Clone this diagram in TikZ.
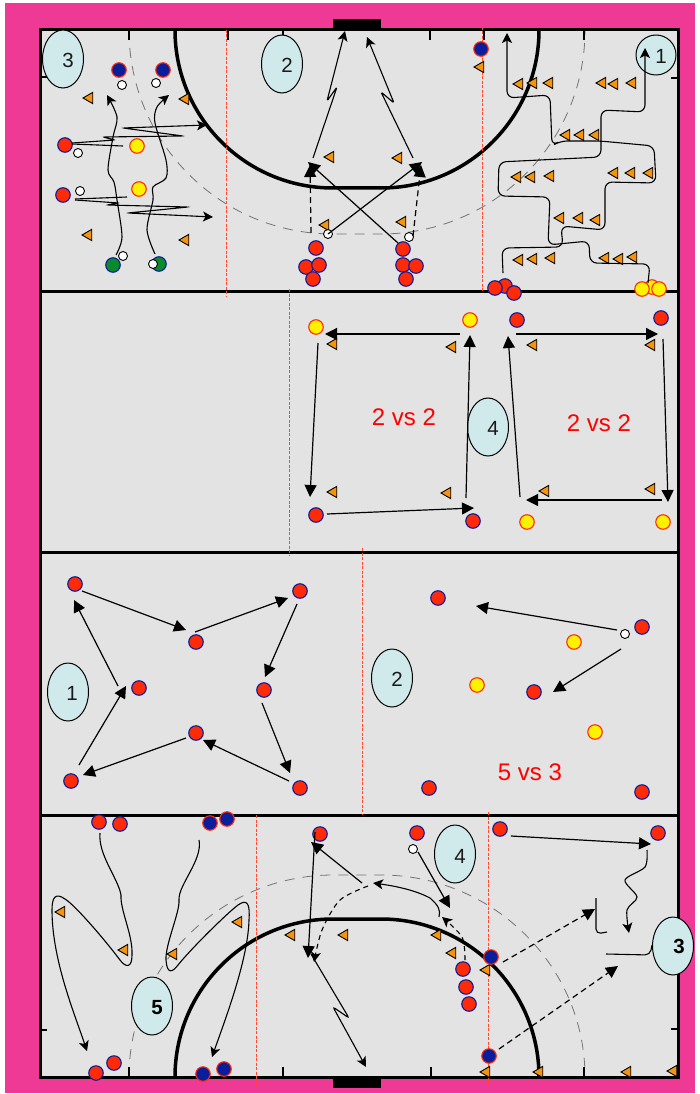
\documentclass[tikz,border=0pt]{standalone}
\usepackage{fontspec}
\setmainfont{Liberation Sans}
\usetikzlibrary{arrows.meta,shapes.geometric}
\definecolor{pinkbg}{HTML}{EE3A94}
\definecolor{fieldc}{HTML}{E3E3E3}
\definecolor{ellc}{HTML}{D0EAEC}
\definecolor{pred}{HTML}{FF2A08}
\definecolor{pblue}{HTML}{0A1E9C}
\definecolor{pgreen}{HTML}{0A8A2A}
\definecolor{pyellow}{HTML}{FFF200}
\definecolor{conec}{HTML}{F5950F}
\definecolor{rline}{HTML}{FF4A30}
\newcommand\conn[4]{\coordinate (#2s) at (#3); \coordinate (#2e) at (#4); \draw[#1] (#2s) -- (#2e);}
\tikzset{
  x=1pt,y=-1pt,
  base/.style={circle,inner sep=0pt,minimum size=14.5pt,line width=1.1pt},
  redp/.style={base,fill=pred,draw=pblue},
  bluep/.style={base,fill=pblue,draw=pred},
  yelp/.style={base,fill=pyellow,draw=pred},
  grnp/.style={base,fill=pgreen,draw=pblue},
  ball/.style={circle,inner sep=0pt,minimum size=9pt,fill=white,draw=black,line width=.9pt},
  conem/.style={regular polygon,regular polygon sides=3,shape border rotate=90,minimum size=13pt,inner sep=0pt,fill=conec,draw=black,line width=.9pt,xshift=1.5pt},
  ell/.style={ellipse,minimum width=41pt,minimum height=58pt,inner sep=0pt,fill=ellc,draw=black,line width=1pt},
  lab/.style={inner sep=0pt,font=\fontsize{20.5}{22}\selectfont,text=black!90},
  blab/.style={inner sep=0pt,font=\fontsize{20.5}{22}\selectfont\bfseries,text=black},
  vs/.style={inner sep=0pt,font=\fontsize{24}{26}\selectfont,text=red},
  arr/.style={line width=1.2pt,-{Triangle[length=12pt,width=12pt]}},
  arrs/.style={line width=1.1pt,-{Stealth[length=10pt,width=10pt,inset=2.5pt]}},
  darr/.style={arr,dash pattern=on 6pt off 4pt},
  darrs/.style={arrs,dash pattern=on 5pt off 4pt},
  curve/.style={line width=1.1pt,line join=round},
  redl/.style={rline,line width=.9pt,dash pattern=on 3pt off 1.5pt},
  grayd/.style={black!55,line width=.8pt,dash pattern=on 10pt off 8pt},
  fline/.style={line width=3pt,black},
  circ/.style={line width=3.5pt,black},
  tick/.style={line width=2.2pt,black}
}
\begin{document}
\begin{tikzpicture}
\useasboundingbox (0,0) rectangle (699,1094);
\fill[white] (0,0) rectangle (699,1094);
\fill[pinkbg] (5,3) rectangle (695,1093);
\fill[black] (333,19) rectangle (381,31);
\fill[black] (333,1076) rectangle (381,1088);
\fill[fieldc] (40,30) rectangle (678,1077);
% dashed circles
\draw[grayd] (129,30) .. controls (129,142.7) and (220.3,234) .. (333,234) -- (381,234) .. controls (493.7,234) and (585,142.7) .. (585,30);
\draw[grayd] (129,1077) .. controls (129,965.4) and (221.4,875) .. (333,875) -- (381,875) .. controls (492.6,875) and (585,965.4) .. (585,1077);
% circles
\draw[circ] (175,30) .. controls (175,117.3) and (245.7,188) .. (333,188) -- (381,188) .. controls (468.3,188) and (539,117.3) .. (539,30);
\draw[circ] (175,1077) .. controls (175,989.7) and (245.7,919) .. (333,919) -- (381,919) .. controls (468.3,919) and (539,989.7) .. (539,1077);
% ticks
\foreach \x in {129,228,283,430,484,584} \draw[tick] (\x,30) -- (\x,40);
\foreach \x in {129,283,431,584} \draw[tick] (\x,1077) -- (\x,1067);
\draw[tick] (40,77) -- (47,77);
\draw[tick] (678,78) -- (671,78);
\draw[tick] (40,1030) -- (47,1030);
\draw[tick] (678,1029) -- (671,1029);
% field lines
\draw[fline] (40,30) rectangle (678,1077);
\draw[fline] (40,291) -- (678,291);
\draw[fline] (40,552) -- (678,552);
\draw[fline] (40,815) -- (678,815);
% red dashed
\draw[redl] (226.5,30) -- (226.5,296);
\draw[redl] (482,27) -- (482,291);
\draw[redl] (289,289) -- (289,555);
\draw[redl] (362,548) -- (362,815);
\draw[redl] (256,815) -- (256,1087);
\draw[redl] (488,812) -- (488,1084);
% ellipses and labels
\node[ell] (e3a) at (63,59) {};
\node[ell] (e2a) at (282,64) {};
\node[ell,minimum width=40pt,minimum height=40pt] (e1a) at (656,55) {};
\node[ell] (e4b) at (488,427) {};
\node[ell] (e1c) at (68,692) {};
\node[ell] (e2c) at (392,678) {};
\node[ell] (e4d) at (455,854) {};
\node[ell] (e3d) at (673,946) {};
\node[ell] (e5d) at (152,1006) {};
\node[lab] (t3a) at (68,60) {3};
\node[lab] (t2a) at (287,65) {2};
\node[lab] (t1a) at (661,56) {1};
\node[lab] (t4b) at (493,428) {4};
\node[lab] (t1c) at (72,693) {1};
\node[lab] (t2c) at (397,679) {2};
\node[lab] (t4d) at (460,856) {4};
\node[blab] (t3d) at (679,946) {3};
\node[blab] (t5d) at (157,1008) {5};
\node[vs] (v1) at (404,417) {2 vs 2};
\node[vs] (v2) at (599,423) {2 vs 2};
\node[vs] (v3) at (530,772) {5 vs 3};
% cones
\foreach \x/\y [count=\i] in {88/98,184/99,87/235,184/240,329/157,324/225,397/158,401/222,479/67,
 518/84,532/83,548/83,601/83,613/84,631/83,565/135,579/135,594/135,516/177,530/177,549/176,
 613/173,630/173,648/173,559/218,578/218,595/220,518/260,532/259,550/258,604/258,618/259,632/257,
 332/344,451/347,532/345,650/345,332/492,446/493,544/491,650/489,
 60/912,123/950,172/954,237/922,290/935,343/935,436/935,451/953,485/970,485/1072,538/1072,626/1072,672/1071}
  \node[conem] (c\i) at (\x,\y) {};
% players
\node[yelp] (y1) at (652,287) {};
\foreach \x/\y [count=\i] in {137/146,139/189,642/289,659/289,316/327,470/320,527/522,663/522,574/642,477/685,595/732}
  \node[yelp] (ya\i) at (\x,\y) {};
\foreach \x/\y [count=\i] in {119/70,163/70,481/49,210/823,227/819,203/1074,224/1069,491/957,489/1056}
  \node[bluep] (b\i) at (\x,\y) {};
\foreach \x/\y [count=\i] in {113/265,159/264}
  \node[grnp] (g\i) at (\x,\y) {};
\foreach \x/\y [count=\i] in {65/145,63/195,316/248,306/267,319/265,313/279,403/249,403/265,416/266,406/279,
 505/286,495/288,514/293,517/320,661/318,316/515,473/521,
 75/584,300/591,196/642,139/688,264/690,196/733,71/781,300/788,
 438/598,642/627,534/692,429/788,642/792,
 99/822,120/824,96/1073,114/1063,320/834,417/833,463/969,466/987,469/1004,500/829,658/833}
  \node[redp] (r\i) at (\x,\y) {};
\foreach \x/\y [count=\i] in {122/85,156/83,78/153,80/191,123/256,153/264,328/234,409/237,625/634,413/849}
  \node[ball] (w\i) at (\x,\y) {};
% top-left
\draw[arrs] plot[smooth] coordinates {(116,255) (122,237) (117,200) (114,182) (108,170) (113,137) (117,117) (107,95)};
\draw[arrs] plot[smooth] coordinates {(155,254) (147,230) (153,200) (153,187) (166,178) (166,160) (155,123) (157,107) (169,95)};
\draw[arrs,rounded corners=2pt] (72,143) -- (115,140) -- (103,137) -- (183,136) -- (123,128) -- (207,125);
\draw[curve] (72,144) -- (123,146);
\draw[curve] (75,199) -- (127,197);
\draw[arrs,rounded corners=2pt] (75,200) -- (119,203) -- (107,205) -- (188,207) -- (128,213) -- (213,217);
% centre top
\draw[arrs,rounded corners=1.5pt] (313,158) -- (337,87) -- (327,101) -- (345,31);
\draw[arrs,rounded corners=1.5pt] (413,158) -- (381,92) -- (394,103) -- (367,37);
\conn{arr}{k1}{398,243}{308,162}
\conn{arr}{k2}{328,234}{422,162}
\conn{darr}{k3}{311,233}{310,165}
\conn{darr}{k4}{413,236}{421,165}
% snakes
\draw[arrs,rounded corners=7pt] (503,273) -- (502,248) -- (563,247) -- (561,226) -- (605,230) -- (605,182) -- (656,183) -- (654,146) -- (600,141) -- (560,141) -- (552,146) -- (550,95) -- (507,98) -- (507,33);
\draw[arrs,rounded corners=7pt] (648,283) -- (650,264) -- (590,263) -- (589,241) -- (548,245) -- (550,197) -- (498,196) -- (499,162) -- (601,157) -- (601,110) -- (645,112) -- (645,48);
% middle
\conn{arr}{m1}{460,334}{325,334}
\conn{arr}{m2}{318,343}{310,497}
\conn{arr}{m3}{327,514}{474,508}
\conn{arr}{m4}{466,498}{470,335}
\conn{arr}{m5}{520,497}{508,336}
\conn{arr}{m6}{516,334}{658,334}
\conn{arr}{m7}{663,339}{668,502}
\conn{arr}{m8}{662,500}{526,500}
\conn{arr}{n1}{82,591}{186,630}
\conn{arr}{n2}{195,632}{288,598}
\conn{arr}{n3}{297,604}{265,677}
\conn{arr}{n4}{262,703}{290,773}
\conn{arr}{n5}{289,781}{203,740}
\conn{arr}{n6}{186,738}{83,775}
\conn{arr}{n7}{79,765}{126,686}
\conn{arr}{n8}{118,686}{74,600}
\conn{arr}{p1}{617,630}{476,606}
\conn{arr}{p2}{621,649}{553,692}
% bottom-left
\draw[arrs] (100,833) .. controls (98,855) and (118,878) .. (121,895) .. controls (120,910) and (133,935) .. (132,955) .. controls (132,968) and (126,968) .. (120,960) .. controls (105,940) and (75,905) .. (65,899) .. controls (55,892) and (52,898) .. (52,910) .. controls (52,960) and (75,1015) .. (87,1051);
\draw[arrs] (199,840) .. controls (203,860) and (178,885) .. (179,900) .. controls (180,912) and (165,945) .. (166,960) .. controls (167,974) and (172,973) .. (178,965) .. controls (190,950) and (225,915) .. (238,905) .. controls (248,898) and (250,905) .. (249,920) .. controls (248,960) and (225,1020) .. (212,1057);
% bottom centre
\conn{arr}{q1}{315,832}{308,958}
\conn{arr}{q2}{362,883}{311,842}
\draw[arrs,rounded corners=2.5pt] (311,954) -- (349,1018) -- (333,1007) -- (366,1067);
\draw[arrs] (439,917) .. controls (441,910) and (438,905) .. (430,898) .. controls (415,890) and (395,886) .. (373,883);
\draw[darrs] plot[smooth] coordinates {(368,886) (340,900) (322,930) (314,962)};
\draw[darrs] plot[smooth] coordinates {(465,960) (462,937) (442,917)};
\conn{arr}{q3}{418,852}{450,908}
% bottom right
\conn{arr}{s1}{511,836}{651,844}
\draw[arrs] plot[smooth] coordinates {(647,850) (645,867) (625,880) (637,897) (627,910) (629,933)};
\conn{darr}{s2}{503,962}{595,909}
\conn{darr}{s3}{499,1049}{618,966}
\draw[curve,rounded corners=5pt] (596,898) -- (596,934) -- (607,932);
\draw[curve,rounded corners=5pt] (606,954) -- (650,955) -- (652,945);
\end{tikzpicture}
\end{document}
